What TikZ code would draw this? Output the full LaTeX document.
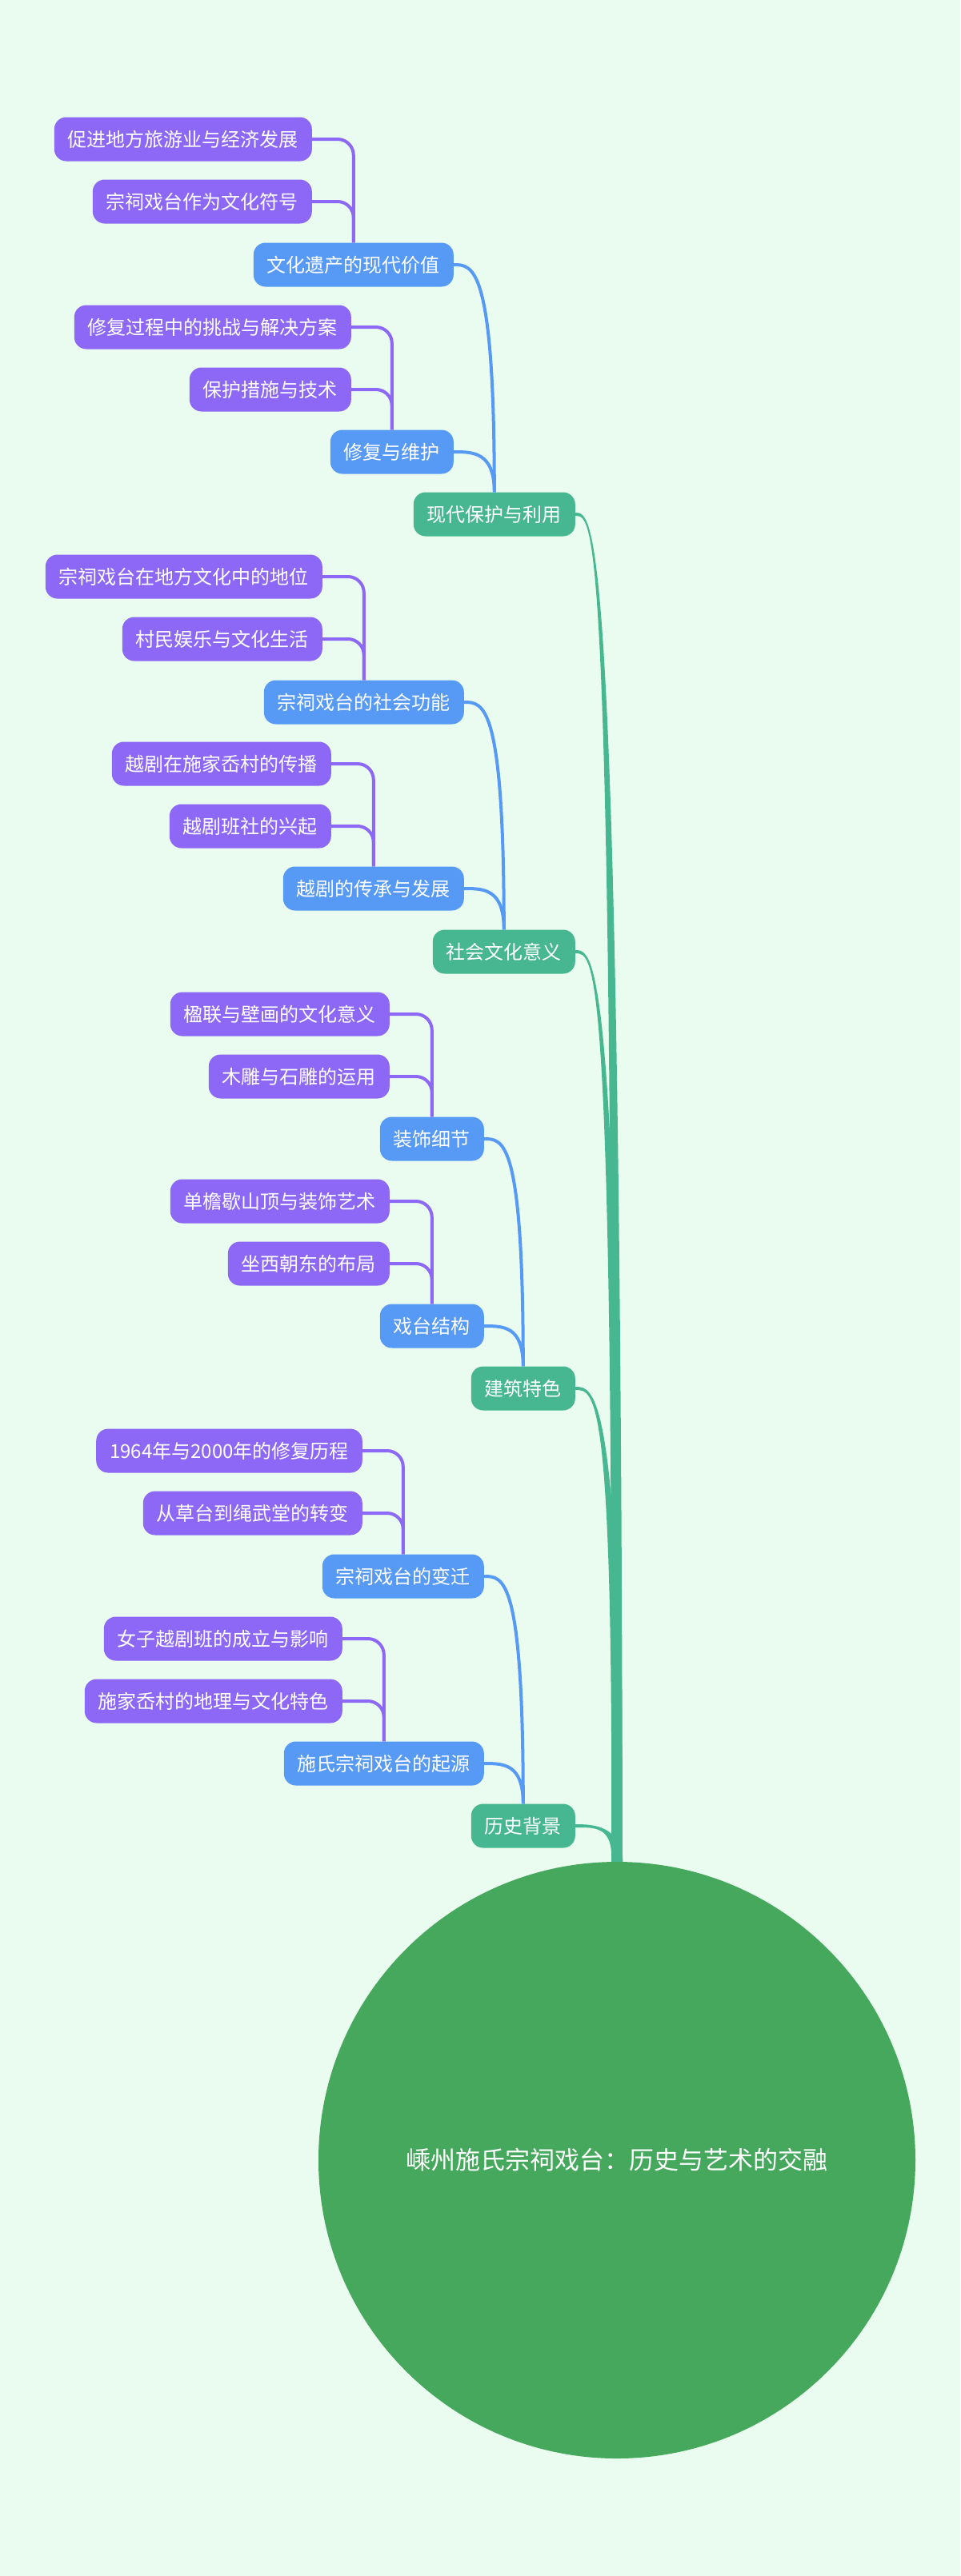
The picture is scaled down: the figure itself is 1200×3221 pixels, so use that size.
\documentclass[tikz,border=0pt]{standalone}
\usepackage{fontspec}
\usepackage{xcolor}
\usetikzlibrary{calc}
\newfontfamily\cjk{Noto Sans CJK SC}

\definecolor{bgmint}{HTML}{E9FCEF}
\definecolor{rootgreen}{HTML}{45A85C}
\definecolor{maingreen}{HTML}{47B791}
\definecolor{subblue}{HTML}{579AF6}
\definecolor{leafpurple}{HTML}{8D68F6}

\begin{document}
\begin{tikzpicture}[x=1pt, y=-1pt,
  box/.style={anchor=east, rounded corners=15pt, minimum height=55pt,
    inner xsep=17pt, inner ysep=0pt, text=white,
    font=\cjk\fontsize{24pt}{28pt}\selectfont},
  mainnode/.style={box, fill=maingreen},
  subnode/.style={box, fill=subblue},
  leafnode/.style={box, fill=leafpurple},
  rootnode/.style={circle, fill=rootgreen, minimum size=746pt, inner sep=0pt,
    text=white, font=\cjk\fontsize{31pt}{36pt}\selectfont},
  trunk/.style={fill=maingreen},
  sublink/.style={draw=subblue, line width=4pt},
  leaflink/.style={draw=leafpurple, line width=4pt, rounded corners=20pt}]

\fill[bgmint] (0,0) rectangle (1200,3221);
\useasboundingbox (0,0) rectangle (1200,3221);

% --- ROOT ---
\node[rootnode] (root) at (771,2701) {嵊州施氏宗祠戏台：历史与艺术的交融};

% --- MAIN BRANCHES ---
\foreach \name/\y/\txt in {m1/643/现代保护与利用, m2/1190/社会文化意义,
                          m3/1736/建筑特色, m4/2283/历史背景}
{
  \node[mainnode] (\name) at (719,\y) {\txt};
  \fill[trunk] ([yshift=2pt]\name.east)
    .. controls ($(\name.east)+(24,-2)$) and ($(root.north |- \name.east)+(4.5,0)$) .. ($(root.north)+(7,0)$)
    -- ($(root.north)+(-7,0)$)
    .. controls ($(root.north |- \name.east)+(-4.5,0)$) and ($(\name.east)+(24,2)$) .. ([yshift=-2pt]\name.east)
    -- cycle;
}

% --- SUB BRANCHES ---
\foreach \name/\x/\y/\txt/\up in {s1/567/331/文化遗产的现代价值/m1, s2/567/565/修复与维护/m1,
                                 s3/580/878/宗祠戏台的社会功能/m2, s4/580/1111/越剧的传承与发展/m2,
                                 s5/605/1424/装饰细节/m3, s6/605/1658/戏台结构/m3,
                                 s7/605/1971/宗祠戏台的变迁/m4, s8/605/2205/施氏宗祠戏台的起源/m4}
{
  \node[subnode] (\name) at (\x,\y) {\txt};
  \draw[sublink] (\name.east) .. controls +(24,0) and (\up.north |- \name.east) .. (\up.north);
}

% --- LEAVES ---
\foreach \name/\x/\y/\txt/\up in {l1/390/174/促进地方旅游业与经济发展/s1, l2/390/252/宗祠戏台作为文化符号/s1,
                                 l3/439/409/修复过程中的挑战与解决方案/s2, l4/439/487/保护措施与技术/s2,
                                 l5/403/721/宗祠戏台在地方文化中的地位/s3, l6/403/799/村民娱乐与文化生活/s3,
                                 l7/414/955/越剧在施家岙村的传播/s4, l8/414/1033/越剧班社的兴起/s4,
                                 l9/487/1268/楹联与壁画的文化意义/s5, l10/487/1346/木雕与石雕的运用/s5,
                                 l11/487/1502/单檐歇山顶与装饰艺术/s6, l12/487/1580/坐西朝东的布局/s6,
                                 l13/453/1814/1964年与2000年的修复历程/s7, l14/453/1892/从草台到绳武堂的转变/s7,
                                 l15/428/2049/女子越剧班的成立与影响/s8, l16/428/2127/施家岙村的地理与文化特色/s8}
{
  \node[leafnode] (\name) at (\x,\y) {\txt};
  \draw[leaflink] (\name.east) -| (\up.north);
}

\end{tikzpicture}
\end{document}
